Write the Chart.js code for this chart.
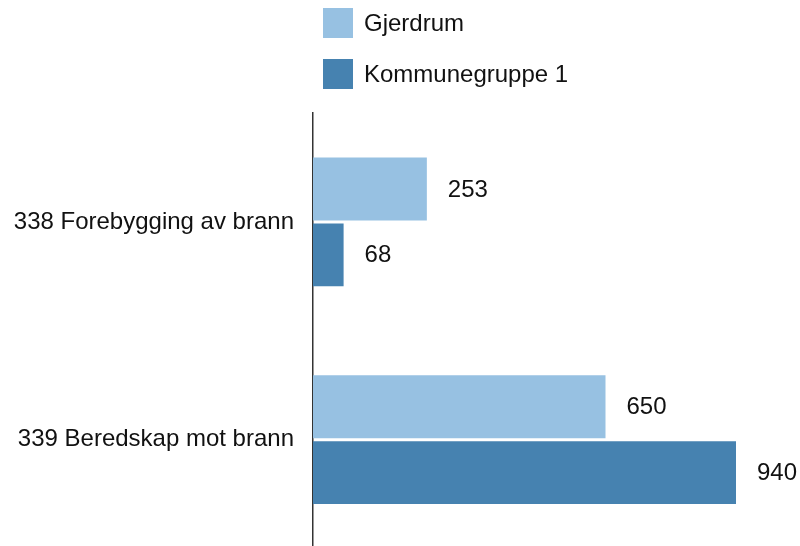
<!DOCTYPE html>
<html>
<head>
<meta charset="utf-8">
<script src="https://cdn.jsdelivr.net/npm/chart.js@4"></script>
<style>
body{margin:0;background:#fff;font-family:"Liberation Sans",Arial,sans-serif;overflow:hidden;}
#wrap{position:relative;width:800px;height:546px;overflow:hidden;}
#chart{display:block;}
#legend{position:absolute;left:323px;top:8px;}
.item{display:flex;align-items:center;height:30px;margin-bottom:21px;font-size:24px;color:#111;}
.box{width:30px;height:30px;margin-right:11px;}
</style>
</head>
<body>
<div id="wrap">
<!-- canvas is a bit taller than the window: the y axis keeps half a label + padding free at its bottom -->
<canvas id="chart" width="800" height="582"></canvas>
<div id="legend"></div>
</div>
<script>
// data
const categories = ["338 Forebygging av brann", "339 Beredskap mot brann"];
const seriesNames = ["Gjerdrum", "Kommunegruppe 1"];
const gjerdrum = [253, 650];
const kommunegruppe = [68, 940];
const colors = ["#97c1e2", "#4682b0"];

// legend as html, stacked
const legendEl = document.getElementById("legend");
seriesNames.forEach((n, i) => {
 legendEl.innerHTML += `<div class="item"><div class="box" style="background:${colors[i]}"></div>${n}</div>`;
});

// numbers next to the bar ends
const valueLabels = {
 id: 'valueLabels',
 afterDatasetsDraw(chart){
  const ctx = chart.ctx;
  ctx.save();
  ctx.font = '24px "Liberation Sans", Arial, sans-serif';
  ctx.fillStyle = '#111';
  ctx.textBaseline = 'middle';
  ctx.textAlign = 'left';
  chart.data.datasets.forEach((ds, i) => {
   chart.getDatasetMeta(i).data.forEach((bar, j) => {
    ctx.fillText(ds.data[j], bar.x + 21, bar.y + 1);
   });
  });
  ctx.restore();
 }
};

new Chart(document.getElementById('chart'), {
 type: 'bar',
 data: {
  labels: categories,
  datasets: [
   { label: seriesNames[0], data: gjerdrum, backgroundColor: colors[0] },
   { label: seriesNames[1], data: kommunegruppe, backgroundColor: colors[1] }
  ]
 },
 options: {
  indexAxis: 'y',
  responsive: false,
  animation: false,
  categoryPercentage: 0.605,
  barPercentage: 0.955,
  layout: { autoPadding: false, padding: { top: 113, right: 37, left: 0, bottom: 0 } },
  scales: {
   x: { display: false, min: 0, max: 1000 },
   y: {
    afterFit(axis){ axis.width = 313; },
    grid: { display: false, drawTicks: false },
    border: { display: true, color: '#333', width: 1.5 },
    ticks: {
     color: '#111',
     padding: 19,
     font: { size: 24, family: '"Liberation Sans", Arial, sans-serif' }
    }
   }
  },
  plugins: {
   legend: { display: false },
   tooltip: { enabled: false }
  }
 },
 plugins: [valueLabels]
});
</script>
</body>
</html>
